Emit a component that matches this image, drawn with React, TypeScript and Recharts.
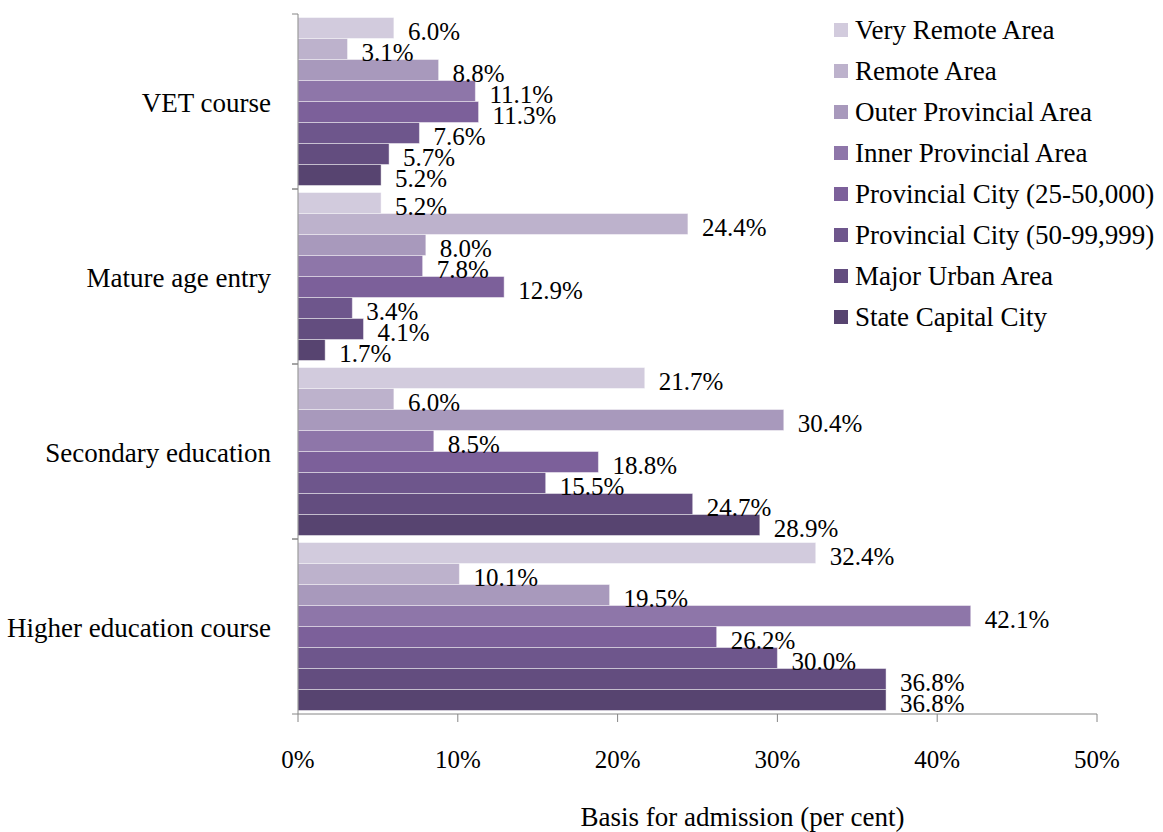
import React from 'react';
import { BarChart, Bar, XAxis, YAxis, Legend, LabelList, Label } from 'recharts';

const categories = ['VET course', 'Mature age entry', 'Secondary education', 'Higher education course'];
const seriesNames = [
  'Very Remote Area',
  'Remote Area',
  'Outer Provincial Area',
  'Inner Provincial Area',
  'Provincial City (25-50,000)',
  'Provincial City (50-99,999)',
  'Major Urban Area',
  'State Capital City',
];
const veryRemote = [6.0, 5.2, 21.7, 32.4];
const remote = [3.1, 24.4, 6.0, 10.1];
const outerProvincial = [8.8, 8.0, 30.4, 19.5];
const innerProvincial = [11.1, 7.8, 8.5, 42.1];
const provCity25 = [11.3, 12.9, 18.8, 26.2];
const provCity50 = [7.6, 3.4, 15.5, 30.0];
const majorUrban = [5.7, 4.1, 24.7, 36.8];
const stateCapital = [5.2, 1.7, 28.9, 36.8];
const xTicks = [0, 10, 20, 30, 40, 50];
const xAxisTitle = 'Basis for admission (per cent)';

const seriesValues = [veryRemote, remote, outerProvincial, innerProvincial, provCity25, provCity50, majorUrban, stateCapital];
const colors = ['#d2cbdd', '#bdb2cc', '#a899bc', '#8e76a9', '#7c609a', '#6e568c', '#634d7f', '#574470'];

const FONT = 'Liberation Serif, Tinos, Times New Roman, DejaVu Serif, serif';
const AXIS = '#868686';

const data = categories.map((c, i) => {
  const row: Record<string, any> = { category: c };
  seriesValues.forEach((s, k) => {
    row['s' + k] = s[i];
  });
  return row;
});

const CatTick = (props: any) => {
  const { x, y, payload } = props;
  const half = payload && typeof payload.offset === 'number' && payload.offset > 0 ? payload.offset : 87.5;
  return (
    <g>
      <line x1={x - 6} x2={x} y1={y - half} y2={y - half} stroke={AXIS} />
      <line x1={x - 6} x2={x} y1={y + half} y2={y + half} stroke={AXIS} />
      <text x={x - 27} y={y} dy="0.38em" textAnchor="end" style={{ fontSize: 27, fontFamily: FONT }} fill="#000">
        {payload.value}
      </text>
    </g>
  );
};

const ValueLabel = (props: any) => {
  const { x, y, width, height, value } = props;
  return (
    <text
      x={Number(x) + Number(width) + 14}
      y={Number(y) + Number(height) / 2 + 12}
      style={{ fontSize: 25, fontFamily: FONT }}
      fill="#000"
    >
      {Number(value).toFixed(1)}%
    </text>
  );
};

const LegendContent = () => (
  <div style={{ fontFamily: FONT }}>
    {seriesNames.map((n, i) => (
      <div key={n} style={{ height: 40.9, display: 'flex', alignItems: 'center', whiteSpace: 'nowrap' }}>
        <div style={{ width: 14, height: 14, background: colors[i], marginRight: 7, flex: 'none' }} />
        <span style={{ fontSize: 27, color: '#000', lineHeight: '30px', fontFamily: FONT }}>{n}</span>
      </div>
    ))}
  </div>
);

const XTitle = (props: any) => {
  const vb = props.viewBox || {};
  const cx = Number(vb.x) + Number(vb.width) / 2 + 45;
  return (
    <text x={cx} y={826} textAnchor="middle" style={{ fontSize: 27, fontFamily: FONT }} fill="#000">
      {xAxisTitle}
    </text>
  );
};

export default function App() {
  return (
    <div style={{ position: 'absolute', left: 0, top: 0, width: 1163, height: 832, background: '#fff', fontFamily: FONT }}>
      <BarChart
        width={1163}
        height={832}
        data={data}
        layout="vertical"
        margin={{ top: 14, right: 66, bottom: 0, left: 0 }}
        barCategoryGap="2%"
        barGap={0}
        style={{ fontFamily: FONT }}
      >
        <XAxis
          type="number"
          domain={[0, 50]}
          ticks={xTicks}
          tickFormatter={(v: number) => v + '%'}
          tickSize={8}
          tickMargin={28}
          height={118}
          axisLine={{ stroke: AXIS }}
          tickLine={{ stroke: AXIS }}
          tick={{ fontSize: 25, fill: '#000', fontFamily: FONT, style: { fontFamily: FONT } }}
          interval={0}
        >
          <Label content={<XTitle />} />
        </XAxis>
        <YAxis
          type="category"
          dataKey="category"
          width={298}
          axisLine={{ stroke: AXIS }}
          tickLine={false}
          tickSize={0}
          tickMargin={0}
          tick={<CatTick />}
          interval={0}
        />
        <Legend
          layout="vertical"
          align="center"
          verticalAlign="middle"
          content={<LegendContent />}
          wrapperStyle={{ left: 834, top: 10, width: 330 }}
        />
        {seriesNames.map((n, i) => (
          <Bar
            key={n}
            dataKey={'s' + i}
            name={n}
            fill={colors[i]}
            stroke="rgba(255,255,255,0.45)"
            strokeWidth={1}
            isAnimationActive={false}
          >
            <LabelList dataKey={'s' + i} content={<ValueLabel />} />
          </Bar>
        ))}
      </BarChart>
    </div>
  );
}
